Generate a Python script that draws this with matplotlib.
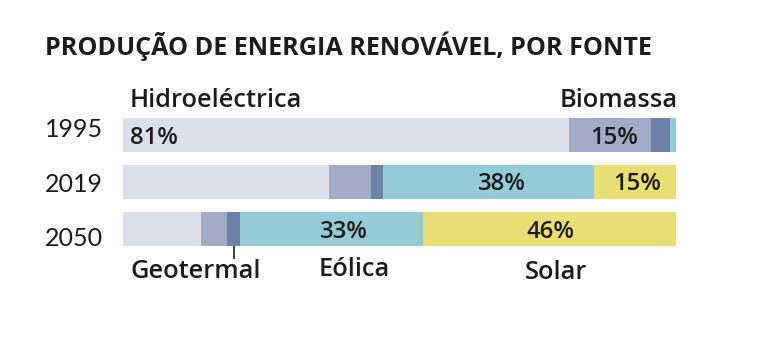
import matplotlib
matplotlib.use("Agg")
import numpy as np
import matplotlib.pyplot as plt

plt.rcParams.update({"font.family": ["Open Sans", "DejaVu Sans"]})

W, H = 770, 339
INK = "#1c1c1c"

# data (percent of renewable production)
years = ["1995", "2019", "2050"]
sources = ["Hidroeléctrica", "Biomassa", "Geotermal", "Eólica", "Solar"]
hydro = [80.7, 37.3, 14.0]
biomass = [14.8, 7.5, 4.8]
geo = [3.5, 2.2, 2.4]
wind = [1.0, 38.3, 33.0]
solar = [0.0, 14.7, 45.8]
colors = ["#dcdfe9", "#a3aac5", "#6e81a6", "#95cbd7", "#e8de74"]

# labelled values: (row, text, x position in %, ha)
pct_labels = [(0, "81%", 1.2, "left"), (0, "15%", 93.2, "right"),
              (1, "38%", 68.5, "center"), (1, "15%", 93.0, "center"),
              (2, "33%", 39.9, "center"), (2, "46%", 77.3, "center")]

def fx(x): return x / W
def fy(y): return 1 - y / H

fig = plt.figure(figsize=(W / 100, H / 100), dpi=100)
rend = fig.canvas.get_renderer()

def fit(texts, ref, target):
    # scale a group of texts so that `ref` gets the target pixel width
    w = ref.get_window_extent(rend).width
    for t in texts:
        t.set_fontsize(t.get_fontsize() * target / w)

x0, x1 = 123.3, 675.7
pitch, c0 = 46.95, 135.3
ax = fig.add_axes([fx(x0), 0, (x1 - x0) / W, 1])
ax.set_xlim(0, 100)
ax.set_ylim((H - c0) / pitch, -c0 / pitch)
ax.axis("off")

ypos = np.arange(len(years))
left = np.zeros(len(years))
for vals, c in zip([hydro, biomass, geo, wind, solar], colors):
    ax.barh(ypos, vals, left=left, height=0.724, color=c, lw=0)
    left += np.array(vals)

# percentage labels inside bars
baselines = [144.5, 190, 238.3]
pts = []
for row, txt, xp, ha in pct_labels:
    pts.append(fig.text(fx(x0 + xp / 100 * (x1 - x0)), fy(baselines[row]), txt, ha=ha,
                        va="baseline", fontsize=16, color=INK, fontweight="semibold"))
fit(pts, pts[2], 48)

# year labels
for yr, b in zip(years, [137, 192, 246.5]):
    fig.text(fx(45), fy(b), yr, fontsize=18, color=INK, va="baseline", ha="left",
             family=["Lato", "DejaVu Sans"])

tt = fig.text(fx(45), fy(55), "PRODUÇÃO DE ENERGIA RENOVÁVEL, POR FONTE", fontsize=14,
              fontweight="bold", color=INK, va="baseline", ha="left")
fit([tt], tt, 610)

# source names
kw = dict(fontsize=16, fontweight="semibold", color=INK, va="baseline")
sts = [fig.text(fx(130), fy(107), sources[0], **kw),
       fig.text(fx(678), fy(107), sources[1], ha="right", **kw),
       fig.text(fx(196), fy(278), sources[2], ha="center", **kw),
       fig.text(fx(354), fy(276), sources[3], ha="center", **kw),
       fig.text(fx(556), fy(279), sources[4], ha="center", **kw)]
fit(sts, sts[0], 174)

# pointer for geothermal on 2050 bar
gx = hydro[2] + biomass[2] + geo[2] / 2
ax.plot([gx, gx], [2 + 0.362, 2 + 0.362 + 13 / pitch], color=INK, lw=1.2, solid_capstyle="butt")

fig.savefig("out.png", dpi=100, facecolor="white")
